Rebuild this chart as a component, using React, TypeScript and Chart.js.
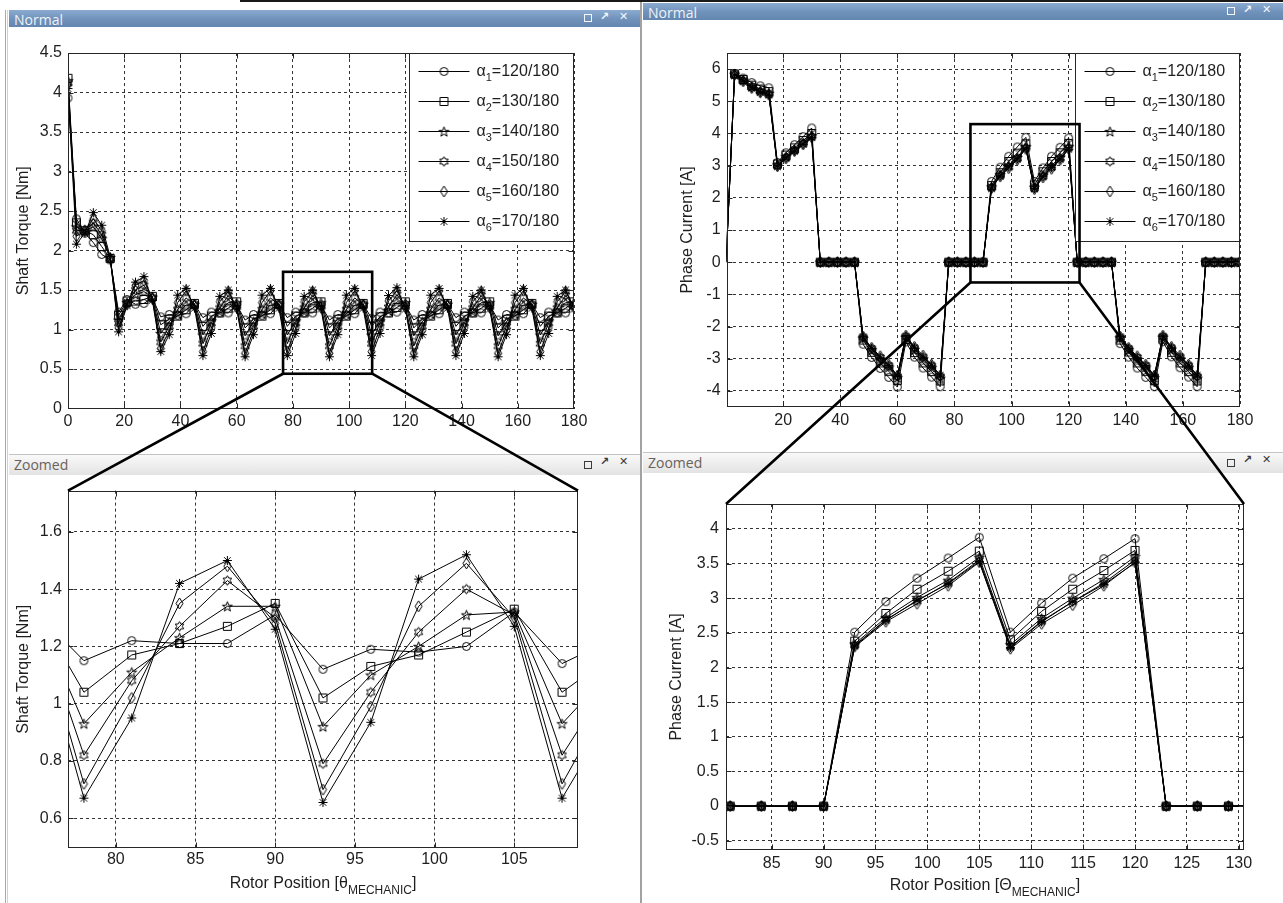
import React, { useEffect, useRef } from 'react';
import { Chart, registerables } from 'chart.js';

Chart.register(...registerables);

const FONT = '"Liberation Sans", Arial, Helvetica, sans-serif';
const TEXT = '#1e1e1e';

// ---------------- data ----------------
const ROTOR_POSITION = [0, 3, 6, 9, 12, 15, 18, 21, 24, 27, 30, 33, 36, 39, 42, 45, 48, 51, 54, 57, 60, 63, 66, 69, 72, 75, 78, 81, 84, 87, 90, 93, 96, 99, 102, 105, 108, 111, 114, 117, 120, 123, 126, 129, 132, 135, 138, 141, 144, 147, 150, 153, 156, 159, 162, 165, 168, 171, 174, 177, 180];

const SERIES_LABELS = ['120/180', '130/180', '140/180', '150/180', '160/180', '170/180'];

const TORQUE_A1 = [3.93, 2.40, 2.22, 2.10, 1.95, 1.88, 1.22, 1.38, 1.32, 1.33, 1.40, 1.16,
  1.19, 1.18, 1.20, 1.32,
  1.15, 1.22, 1.21, 1.21, 1.31,
  1.12, 1.19, 1.18, 1.20, 1.32,
  1.15, 1.22, 1.21, 1.21, 1.31,
  1.12, 1.19, 1.18, 1.20, 1.32,
  1.14, 1.22, 1.21, 1.22, 1.31,
  1.12, 1.19, 1.18, 1.20, 1.32,
  1.15, 1.22, 1.21, 1.21, 1.31,
  1.12, 1.19, 1.18, 1.20, 1.32,
  1.15, 1.22, 1.21, 1.21, 1.31];
const TORQUE_A2 = [4.18, 2.35, 2.25, 2.20, 2.05, 1.90, 1.18, 1.36, 1.36, 1.38, 1.42, 1.06,
  1.13, 1.17, 1.25, 1.33,
  1.04, 1.17, 1.21, 1.27, 1.35,
  1.02, 1.13, 1.17, 1.25, 1.33,
  1.04, 1.17, 1.21, 1.27, 1.35,
  1.02, 1.13, 1.17, 1.25, 1.33,
  1.04, 1.16, 1.21, 1.28, 1.35,
  1.02, 1.13, 1.17, 1.25, 1.33,
  1.04, 1.17, 1.21, 1.27, 1.35,
  1.02, 1.13, 1.17, 1.25, 1.33,
  1.04, 1.17, 1.21, 1.27, 1.35];
const TORQUE_A3 = [4.15, 2.30, 2.25, 2.30, 2.15, 1.91, 1.12, 1.34, 1.44, 1.48, 1.41, 0.95,
  1.10, 1.20, 1.31, 1.32,
  0.93, 1.11, 1.23, 1.34, 1.34,
  0.92, 1.10, 1.20, 1.31, 1.32,
  0.93, 1.11, 1.23, 1.34, 1.34,
  0.92, 1.10, 1.20, 1.31, 1.32,
  0.93, 1.11, 1.24, 1.35, 1.34,
  0.92, 1.10, 1.20, 1.31, 1.32,
  0.93, 1.11, 1.23, 1.34, 1.34,
  0.92, 1.10, 1.20, 1.31, 1.32,
  0.93, 1.11, 1.23, 1.34, 1.34];
const TORQUE_A4 = [4.12, 2.25, 2.26, 2.35, 2.20, 1.90, 1.08, 1.33, 1.50, 1.56, 1.40, 0.84,
  1.04, 1.25, 1.40, 1.31,
  0.82, 1.08, 1.27, 1.43, 1.30,
  0.79, 1.04, 1.25, 1.40, 1.31,
  0.82, 1.08, 1.27, 1.43, 1.30,
  0.79, 1.04, 1.25, 1.40, 1.31,
  0.82, 1.08, 1.28, 1.44, 1.30,
  0.79, 1.04, 1.25, 1.40, 1.31,
  0.82, 1.08, 1.27, 1.43, 1.30,
  0.79, 1.04, 1.25, 1.40, 1.31,
  0.82, 1.08, 1.27, 1.43, 1.30];
const TORQUE_A5 = [4.10, 2.18, 2.25, 2.40, 2.25, 1.90, 1.02, 1.32, 1.56, 1.62, 1.39, 0.76,
  0.99, 1.34, 1.49, 1.30,
  0.72, 1.02, 1.35, 1.48, 1.28,
  0.70, 0.99, 1.34, 1.49, 1.30,
  0.72, 1.02, 1.35, 1.48, 1.28,
  0.70, 0.99, 1.34, 1.49, 1.30,
  0.72, 1.02, 1.36, 1.49, 1.28,
  0.70, 0.99, 1.34, 1.49, 1.30,
  0.72, 1.02, 1.35, 1.48, 1.28,
  0.70, 0.99, 1.34, 1.49, 1.30,
  0.72, 1.02, 1.35, 1.48, 1.28];
const TORQUE_A6 = [4.05, 2.08, 2.22, 2.48, 2.32, 1.92, 0.97, 1.30, 1.60, 1.67, 1.37, 0.72,
  0.935, 1.435, 1.52, 1.27,
  0.67, 0.95, 1.42, 1.50, 1.26,
  0.655, 0.935, 1.435, 1.52, 1.27,
  0.67, 0.95, 1.42, 1.50, 1.26,
  0.655, 0.935, 1.435, 1.52, 1.27,
  0.67, 0.95, 1.43, 1.53, 1.26,
  0.655, 0.935, 1.435, 1.52, 1.27,
  0.67, 0.95, 1.42, 1.50, 1.26,
  0.655, 0.935, 1.435, 1.52, 1.27,
  0.67, 0.95, 1.42, 1.50, 1.26];

const CURRENT_A1 = [0, 5.86, 5.72, 5.58, 5.48, 5.42, 3.10, 3.40, 3.65, 3.90, 4.17, 0, 0, 0, 0, 0,
  -2.55, -2.96, -3.30, -3.58, -3.88, -2.48, -2.95, -3.29, -3.57, -3.87, 0, 0, 0, 0, 0,
  2.51, 2.95, 3.29, 3.58, 3.88, 2.51, 2.93, 3.29, 3.57, 3.86, 0, 0, 0, 0, 0,
  -2.53, -2.95, -3.29, -3.58, -3.87, -2.47, -2.94, -3.28, -3.57, -3.87, 0, 0, 0, 0, 0];
const CURRENT_A2 = [0, 5.85, 5.68, 5.50, 5.38, 5.30, 3.05, 3.33, 3.55, 3.78, 4.00, 0, 0, 0, 0, 0,
  -2.42, -2.80, -3.13, -3.39, -3.68, -2.40, -2.81, -3.13, -3.40, -3.69, 0, 0, 0, 0, 0,
  2.38, 2.78, 3.13, 3.39, 3.68, 2.40, 2.81, 3.13, 3.40, 3.69, 0, 0, 0, 0, 0,
  -2.42, -2.79, -3.13, -3.39, -3.68, -2.39, -2.80, -3.13, -3.40, -3.69, 0, 0, 0, 0, 0];
const CURRENT_A3 = [0, 5.84, 5.66, 5.46, 5.33, 5.25, 3.02, 3.28, 3.50, 3.72, 3.93, 0, 0, 0, 0, 0,
  -2.36, -2.72, -3.01, -3.26, -3.59, -2.33, -2.71, -3.00, -3.27, -3.60, 0, 0, 0, 0, 0,
  2.34, 2.72, 3.01, 3.26, 3.59, 2.33, 2.71, 3.00, 3.27, 3.60, 0, 0, 0, 0, 0,
  -2.35, -2.72, -3.01, -3.26, -3.59, -2.33, -2.70, -3.00, -3.27, -3.60, 0, 0, 0, 0, 0];
const CURRENT_A4 = [0, 5.83, 5.64, 5.43, 5.30, 5.22, 3.00, 3.25, 3.47, 3.68, 3.90, 0, 0, 0, 0, 0,
  -2.33, -2.69, -2.96, -3.22, -3.55, -2.31, -2.67, -2.95, -3.22, -3.55, 0, 0, 0, 0, 0,
  2.32, 2.69, 2.96, 3.22, 3.55, 2.30, 2.67, 2.95, 3.22, 3.55, 0, 0, 0, 0, 0,
  -2.33, -2.69, -2.96, -3.22, -3.55, -2.31, -2.67, -2.95, -3.22, -3.55, 0, 0, 0, 0, 0];
const CURRENT_A5 = [0, 5.82, 5.62, 5.41, 5.27, 5.20, 2.98, 3.22, 3.45, 3.66, 3.88, 0, 0, 0, 0, 0,
  -2.31, -2.66, -2.92, -3.18, -3.52, -2.28, -2.63, -2.90, -3.18, -3.52, 0, 0, 0, 0, 0,
  2.30, 2.66, 2.92, 3.18, 3.52, 2.27, 2.63, 2.90, 3.18, 3.52, 0, 0, 0, 0, 0,
  -2.31, -2.66, -2.92, -3.18, -3.52, -2.28, -2.63, -2.90, -3.18, -3.52, 0, 0, 0, 0, 0];
const CURRENT_A6 = [0, 5.82, 5.63, 5.42, 5.28, 5.20, 2.99, 3.24, 3.46, 3.67, 3.88, 0, 0, 0, 0, 0,
  -2.32, -2.68, -2.97, -3.21, -3.53, -2.30, -2.66, -2.95, -3.20, -3.51, 0, 0, 0, 0, 0,
  2.31, 2.68, 2.97, 3.21, 3.53, 2.29, 2.66, 2.95, 3.20, 3.51, 0, 0, 0, 0, 0,
  -2.32, -2.68, -2.97, -3.21, -3.53, -2.30, -2.66, -2.95, -3.20, -3.51, 0, 0, 0, 0, 0];

const TORQUE_SERIES = [TORQUE_A1, TORQUE_A2, TORQUE_A3, TORQUE_A4, TORQUE_A5, TORQUE_A6];
const CURRENT_SERIES = [CURRENT_A1, CURRENT_A2, CURRENT_A3, CURRENT_A4, CURRENT_A5, CURRENT_A6];

// tick labels
const TL_X_TICKS = [0, 20, 40, 60, 80, 100, 120, 140, 160, 180];
const TL_Y_TICKS = [0, 0.5, 1, 1.5, 2, 2.5, 3, 3.5, 4, 4.5];
const TR_X_TICKS = [20, 40, 60, 80, 100, 120, 140, 160, 180];
const TR_Y_TICKS = [-4, -3, -2, -1, 0, 1, 2, 3, 4, 5, 6];
const BL_X_TICKS = [80, 85, 90, 95, 100, 105];
const BL_Y_TICKS = [0.6, 0.8, 1, 1.2, 1.4, 1.6];
const BR_X_TICKS = [85, 90, 95, 100, 105, 110, 115, 120, 125, 130];
const BR_Y_TICKS = [-0.5, 0, 0.5, 1, 1.5, 2, 2.5, 3, 3.5, 4];

// zoom windows marked on the overview plots
const ZOOM_TORQUE_X = [76.5, 108.2];
const ZOOM_TORQUE_Y = [0.44, 1.73];
const ZOOM_CURRENT_X = [85.6, 123.8];
const ZOOM_CURRENT_Y = [-0.63, 4.29];

const MARKER_KINDS = ['circle', 'square', 'pentagram', 'hexagram', 'diamond', 'asterisk'];

// ---------------- layout ----------------
const P_TL = { left: 10, top: 27, width: 630, height: 426 };
const P_TR = { left: 643, top: 20, width: 640, height: 433 };
const P_BL = { left: 10, top: 475, width: 630, height: 428 };
const P_BR = { left: 643, top: 473, width: 640, height: 430 };

function starPath(g: CanvasRenderingContext2D, cx: number, cy: number, n: number, ro: number, ri: number) {
  for (let k = 0; k < n * 2; k++) {
    const r = k % 2 === 0 ? ro : ri;
    const ang = -Math.PI / 2 + (k * Math.PI) / n;
    const px = cx + r * Math.cos(ang);
    const py = cy + r * Math.sin(ang);
    if (k === 0) g.moveTo(px, py); else g.lineTo(px, py);
  }
  g.closePath();
}

function makeMarker(kind: string): HTMLCanvasElement {
  const c = document.createElement('canvas');
  c.width = 15;
  c.height = 15;
  const g = c.getContext('2d') as CanvasRenderingContext2D;
  g.strokeStyle = '#000';
  g.lineWidth = 1;
  const cx = 7.5, cy = 7.5;
  g.beginPath();
  if (kind === 'circle') g.arc(cx, cy, 4, 0, Math.PI * 2);
  else if (kind === 'square') g.rect(3.5, 3.5, 8, 8);
  else if (kind === 'pentagram') starPath(g, cx, cy + 0.5, 5, 5.2, 2.1);
  else if (kind === 'hexagram') starPath(g, cx, cy, 6, 4.8, 2.8);
  else if (kind === 'diamond') {
    g.moveTo(cx, cy - 5.5); g.lineTo(cx + 3.5, cy); g.lineTo(cx, cy + 5.5); g.lineTo(cx - 3.5, cy); g.closePath();
  } else {
    const r = 4.5, d = 3.3;
    g.moveTo(cx, cy - r); g.lineTo(cx, cy + r);
    g.moveTo(cx - r, cy); g.lineTo(cx + r, cy);
    g.moveTo(cx - d, cy - d); g.lineTo(cx + d, cy + d);
    g.moveTo(cx - d, cy + d); g.lineTo(cx + d, cy - d);
  }
  g.stroke();
  return c;
}

function fmt(v: number) {
  return String(Math.round(v * 1000) / 1000);
}

type Cfg = {
  series: number[][];
  xMin: number; xMax: number; yMin: number; yMax: number;
  xTicks: number[]; yTicks: number[];
  padTop: number; padRight: number; yWidth: number; xHeight: number;
  xPad: number; yPad: number;
  yTitle: string; yTitleX: number;
  xTitle?: string[]; xTitleY?: number;
  legend: boolean;
};

function makeFramePlugin(cfg: Cfg, markers: HTMLCanvasElement[]) {
  return {
    id: 'matlabFrame',
    afterDraw(chart: any) {
      const ctx: CanvasRenderingContext2D = chart.ctx;
      const a = chart.chartArea;
      const L = Math.round(a.left) + 0.5;
      const R = Math.round(a.right) - 0.5;
      const T = Math.round(a.top) + 0.5;
      const B = Math.round(a.bottom) - 0.5;
      ctx.save();
      ctx.setLineDash([]);
      ctx.strokeStyle = '#262626';
      ctx.lineWidth = 1;
      // inner tick marks
      ctx.beginPath();
      const xs = chart.scales.x, ys = chart.scales.y;
      for (const t of xs.ticks) {
        const px = Math.round(xs.getPixelForValue(t.value)) + 0.5;
        if (px <= L + 1 || px >= R - 1) continue;
        ctx.moveTo(px, B); ctx.lineTo(px, B - 5);
        ctx.moveTo(px, T); ctx.lineTo(px, T + 5);
      }
      for (const t of ys.ticks) {
        const py = Math.round(ys.getPixelForValue(t.value)) + 0.5;
        if (py <= T + 1 || py >= B - 1) continue;
        ctx.moveTo(L, py); ctx.lineTo(L + 5, py);
        ctx.moveTo(R, py); ctx.lineTo(R - 5, py);
      }
      ctx.stroke();
      ctx.strokeRect(L, T, R - L, B - T);

      // legend
      if (cfg.legend) {
        const lw = 164, lh = 188;
        const lx = R - lw;
        const ly = T;
        ctx.fillStyle = '#fff';
        ctx.fillRect(lx, ly, lw, lh);
        ctx.strokeRect(lx, ly, lw, lh);
        for (let i = 0; i < SERIES_LABELS.length; i++) {
          const yy = Math.round(ly + 17.5 + 30 * i) + 0.5;
          ctx.strokeStyle = '#000';
          ctx.beginPath();
          ctx.moveTo(lx + 9, yy); ctx.lineTo(lx + 60, yy);
          ctx.stroke();
          ctx.drawImage(markers[i], lx + 34.5 - 7.5, yy - 7.5);
          ctx.fillStyle = TEXT;
          ctx.textBaseline = 'middle';
          ctx.textAlign = 'left';
          let tx = lx + 67;
          ctx.font = `16px ${FONT}`;
          ctx.fillText('α', tx, yy);
          tx += ctx.measureText('α').width;
          ctx.font = `11px ${FONT}`;
          ctx.fillText(String(i + 1), tx, yy + 6);
          tx += ctx.measureText(String(i + 1)).width;
          ctx.font = `16px ${FONT}`;
          ctx.fillText('=' + SERIES_LABELS[i], tx, yy);
        }
      }

      // y title
      ctx.fillStyle = TEXT;
      ctx.font = `16px ${FONT}`;
      ctx.save();
      ctx.translate(cfg.yTitleX, (a.top + a.bottom) / 2);
      ctx.rotate(-Math.PI / 2);
      ctx.textAlign = 'center';
      ctx.textBaseline = 'middle';
      ctx.fillText(cfg.yTitle, 0, 0);
      ctx.restore();

      // x title with subscript
      if (cfg.xTitle && cfg.xTitleY !== undefined) {
        const [main, sub, end] = cfg.xTitle;
        ctx.textAlign = 'left';
        ctx.textBaseline = 'alphabetic';
        ctx.font = `16px ${FONT}`;
        const w1 = ctx.measureText(main).width;
        const w3 = ctx.measureText(end).width;
        ctx.font = `12px ${FONT}`;
        const w2 = ctx.measureText(sub).width;
        const sx = (a.left + a.right) / 2 - (w1 + w2 + w3) / 2;
        const by = cfg.xTitleY;
        ctx.font = `16px ${FONT}`;
        ctx.fillText(main, sx, by);
        ctx.font = `12px ${FONT}`;
        ctx.fillText(sub, sx + w1, by + 6);
        ctx.font = `16px ${FONT}`;
        ctx.fillText(end, sx + w1 + w2, by);
      }
      ctx.restore();
    },
  };
}

function buildChart(canvas: HTMLCanvasElement, cfg: Cfg, markers: HTMLCanvasElement[]) {
  const datasets = cfg.series.map((s, i) => ({
    label: 'α' + (i + 1) + '=' + SERIES_LABELS[i],
    data: ROTOR_POSITION.map((x, j) => ({ x, y: s[j] })),
    borderColor: '#000',
    borderWidth: 1,
    backgroundColor: 'rgba(0,0,0,0)',
    pointStyle: markers[i],
    pointRadius: (c: any) => (c.parsed && c.parsed.x < cfg.xMin - 1e-9 ? 0 : 4),
    pointHoverRadius: 4,
    pointBorderColor: '#000',
    pointBackgroundColor: 'rgba(0,0,0,0)',
    tension: 0,
    fill: false,
  }));
  const gridCommon = {
    color: '#333',
    lineWidth: 1,
    drawTicks: false,
  };
  return new Chart(canvas, {
    type: 'line',
    data: { datasets } as any,
    options: {
      animation: false,
      responsive: false,
      maintainAspectRatio: false,
      devicePixelRatio: 1,
      events: [],
      layout: { padding: { top: cfg.padTop, right: cfg.padRight, left: 0, bottom: 0 } },
      plugins: { legend: { display: false }, tooltip: { enabled: false } },
      scales: {
        x: {
          type: 'linear',
          min: cfg.xMin,
          max: cfg.xMax,
          afterBuildTicks: (sc: any) => { sc.ticks = cfg.xTicks.map((v) => ({ value: v })); },
          afterFit: (sc: any) => { sc.height = cfg.xHeight; },
          grid: gridCommon,
          border: { display: false, dash: [3, 3] },
          ticks: {
            autoSkip: false, maxRotation: 0, minRotation: 0, padding: cfg.xPad,
            color: TEXT, font: { family: FONT, size: 16 },
            callback: (v: any) => fmt(Number(v)),
          },
        },
        y: {
          type: 'linear',
          min: cfg.yMin,
          max: cfg.yMax,
          afterBuildTicks: (sc: any) => { sc.ticks = cfg.yTicks.map((v) => ({ value: v })); },
          afterFit: (sc: any) => { sc.width = cfg.yWidth; },
          grid: gridCommon,
          border: { display: false, dash: [3, 3] },
          ticks: {
            autoSkip: false, padding: cfg.yPad,
            color: TEXT, font: { family: FONT, size: 16 },
            callback: (v: any) => fmt(Number(v)),
          },
        },
      },
    } as any,
    plugins: [makeFramePlugin(cfg, markers) as any],
  });
}

function TitleBar(props: { left: number; top: number; width: number; height: number; text: string; normal: boolean }) {
  const { left, top, width, height, text, normal } = props;
  const fg = normal ? '#f3f7fc' : '#3a3a3a';
  return (
    <div style={{
      position: 'absolute', left, top, width, height, boxSizing: 'border-box',
      background: normal ? 'linear-gradient(#8babd0, #6f91ba 55%, #6386b0)' : 'linear-gradient(#f9f9f9, #e3e3e3)',
      borderTop: normal ? 'none' : '1px solid #c4c4c4',
    }}>
      <span style={{
        position: 'absolute', left: 5, top: 0, height, lineHeight: height + 'px',
        font: '14px "Open Sans", "Noto Sans", sans-serif', color: normal ? '#eef3f9' : '#6a6159',
      }}>{text}</span>
      <div style={{
        position: 'absolute', left: width - 56, top: height / 2 - 4.5, width: 8, height: 8,
        border: `1.5px solid ${fg}`, boxSizing: 'border-box',
      }} />
      <span style={{
        position: 'absolute', left: width - 40, top: 0, height, lineHeight: height + 'px',
        font: 'bold 11px "DejaVu Sans", sans-serif', color: fg,
      }}>↗</span>
      <span style={{
        position: 'absolute', left: width - 21, top: 0, height, lineHeight: height + 'px',
        font: 'bold 11px "DejaVu Sans", sans-serif', color: fg,
      }}>✕</span>
    </div>
  );
}

export default function App() {
  const tlRef = useRef<HTMLCanvasElement>(null);
  const trRef = useRef<HTMLCanvasElement>(null);
  const blRef = useRef<HTMLCanvasElement>(null);
  const brRef = useRef<HTMLCanvasElement>(null);
  const ovRef = useRef<HTMLCanvasElement>(null);

  useEffect(() => {
    const markers = MARKER_KINDS.map(makeMarker);
    const tl = buildChart(tlRef.current as HTMLCanvasElement, {
      series: TORQUE_SERIES, xMin: 0, xMax: 180, yMin: 0, yMax: 4.5,
      xTicks: TL_X_TICKS, yTicks: TL_Y_TICKS,
      padTop: 26, padRight: 66, yWidth: 58, xHeight: 44.5, xPad: 3, yPad: 6,
      yTitle: 'Shaft Torque [Nm]', yTitleX: 14, legend: true,
    }, markers);
    const tr = buildChart(trRef.current as HTMLCanvasElement, {
      series: CURRENT_SERIES, xMin: 0.2, xMax: 180, yMin: -4.5, yMax: 6.5,
      xTicks: TR_X_TICKS, yTicks: TR_Y_TICKS,
      padTop: 33, padRight: 43, yWidth: 83.6, xHeight: 46, xPad: 4, yPad: 6,
      yTitle: 'Phase Current [A]', yTitleX: 45, legend: true,
    }, markers);
    const bl = buildChart(blRef.current as HTMLCanvasElement, {
      series: TORQUE_SERIES, xMin: 77, xMax: 109, yMin: 0.496, yMax: 1.744,
      xTicks: BL_X_TICKS, yTicks: BL_Y_TICKS,
      padTop: 12, padRight: 62, yWidth: 58, xHeight: 55, xPad: 2, yPad: 6,
      yTitle: 'Shaft Torque [Nm]', yTitleX: 14,
      xTitle: ['Rotor Position [θ', 'MECHANIC', ']'], xTitleY: 413, legend: false,
    }, markers);
    const br = buildChart(brRef.current as HTMLCanvasElement, {
      series: CURRENT_SERIES, xMin: 80.6, xMax: 130.5, yMin: -0.634, yMax: 4.36,
      xTicks: BR_X_TICKS, yTicks: BR_Y_TICKS,
      padTop: 31, padRight: 39, yWidth: 83, xHeight: 53, xPad: 4, yPad: 7,
      yTitle: 'Phase Current [A]', yTitleX: 34,
      xTitle: ['Rotor Position [Θ', 'MECHANIC', ']'], xTitleY: 417, legend: false,
    }, markers);

    const ov = ovRef.current as HTMLCanvasElement;
    const g = ov.getContext('2d') as CanvasRenderingContext2D;
    g.clearRect(0, 0, ov.width, ov.height);
    g.strokeStyle = '#000';
    g.lineWidth = 2.6;
    g.lineJoin = 'miter';
    const drawZoom = (src: any, ps: any, dst: any, pd: any, zx: number[], zy: number[]) => {
      const x0 = ps.left + src.scales.x.getPixelForValue(zx[0]);
      const x1 = ps.left + src.scales.x.getPixelForValue(zx[1]);
      const yTop = ps.top + src.scales.y.getPixelForValue(zy[1]);
      const yBot = ps.top + src.scales.y.getPixelForValue(zy[0]);
      g.strokeRect(x0, yTop, x1 - x0, yBot - yTop);
      g.beginPath();
      g.moveTo(x0, yBot);
      g.lineTo(pd.left + dst.chartArea.left, pd.top + dst.chartArea.top);
      g.moveTo(x1, yBot);
      g.lineTo(pd.left + dst.chartArea.right, pd.top + dst.chartArea.top);
      g.stroke();
    };
    drawZoom(tl, P_TL, bl, P_BL, ZOOM_TORQUE_X, ZOOM_TORQUE_Y);
    drawZoom(tr, P_TR, br, P_BR, ZOOM_CURRENT_X, ZOOM_CURRENT_Y);

    return () => {
      tl.destroy(); tr.destroy(); bl.destroy(); br.destroy();
      g.clearRect(0, 0, ov.width, ov.height);
    };
  }, []);

  const cv = (p: { left: number; top: number; width: number; height: number }) => ({
    position: 'absolute' as const, left: p.left, top: p.top, width: p.width, height: p.height, display: 'block',
  });

  return (
    <div style={{ position: 'fixed', left: 0, top: 0, width: 1283, height: 903, background: '#fff', overflow: 'hidden' }}>
      {/* window chrome */}
      <div style={{ position: 'absolute', left: 240, top: 0, width: 1043, height: 2, background: '#1a1a1a' }} />
      <div style={{ position: 'absolute', left: 5, top: 10, width: 1, height: 893, background: '#a9a9a9' }} />
      <div style={{ position: 'absolute', left: 7, top: 10, width: 1, height: 893, background: '#d2d2d2' }} />
      <div style={{ position: 'absolute', left: 640, top: 2, width: 2, height: 901, background: '#a2a2a2' }} />
      <TitleBar left={9} top={10} width={631} height={17} text="Normal" normal={true} />
      <TitleBar left={643} top={3} width={640} height={17} text="Normal" normal={true} />
      <TitleBar left={9} top={454} width={631} height={21} text="Zoomed" normal={false} />
      <TitleBar left={643} top={452} width={640} height={21} text="Zoomed" normal={false} />

      <canvas ref={tlRef} width={P_TL.width} height={P_TL.height} style={cv(P_TL)} />
      <canvas ref={trRef} width={P_TR.width} height={P_TR.height} style={cv(P_TR)} />
      <canvas ref={blRef} width={P_BL.width} height={P_BL.height} style={cv(P_BL)} />
      <canvas ref={brRef} width={P_BR.width} height={P_BR.height} style={cv(P_BR)} />
      <canvas ref={ovRef} width={1283} height={903}
        style={{ position: 'absolute', left: 0, top: 0, width: 1283, height: 903, pointerEvents: 'none' }} />
    </div>
  );
}
